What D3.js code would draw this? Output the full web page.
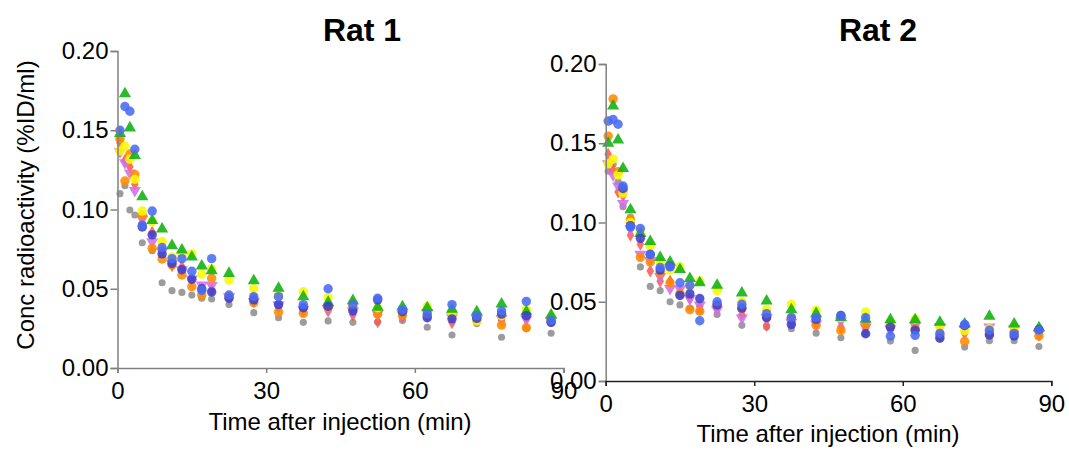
<!DOCTYPE html>
<html>
<head>
<meta charset="utf-8">
<script src="https://cdn.jsdelivr.net/npm/d3@7"></script>
<style>
  body { margin: 0; background: #fff; }
  svg { display: block; font-family: "Liberation Sans", Arial, sans-serif; }
</style>
</head>
<body>
<svg id="chart" width="1069" height="450"></svg>
<script>
// sample times (min), shared by both rats
const times = [0.5, 1.5, 2.5, 3.5, 5, 7, 9, 11, 13, 15, 17, 19, 22.5, 27.5, 32.5, 37.5, 42.5, 47.5, 52.5, 57.5, 62.5, 67.5, 72.5, 77.5, 82.5, 87.5];

// Rat 1
const rat1Blue   = [.150, .165, .162, .138, .090, .099, .076, .069, .069, .061, .049, .069, .046, .045, .045, .040, .050, .040, .044, .037, .034, .040, .033, .036, .042, .030];
const rat1Navy   = [null, null, null, null, .089, .084, .072, .066, .062, .056, .050, .048, .044, .043, .040, .038, .039, .036, .043, .0355, .0317, .031, .0313, .034, .033, .0288];
const rat1Green  = [.148, .173, .1515, .134, .108, .093, .0877, .0772, .0744, .070, .0644, .0614, .0597, .0551, .0503, .045, .0414, .0425, .0383, .0387, .038, .037, .0355, .0404, .0355, .0334];
const rat1Yellow = [.137, .140, .1317, .119, .099, .0923, .0797, .070, .0719, .072, .0593, .0625, .0555, .050, .046, .0481, .0444, .041, .038, .036, .0387, .034, .0297, .033, .037, .032];
const rat1Orange = [.1445, .118, .135, .122, .0963, .0755, .0688, .065, .0587, .0513, .046, .0566, .045, .0412, .0353, .0345, .038, .0383, .0339, .0334, .033, .0345, .030, .0271, .0254, .029];
const rat1Red    = [.142, .131, .127, .116, .0917, .0856, .075, .0646, .0639, .0555, .050, .049, .044, .045, .038, .036, .036, .0334, .0292, .032, .033, .0286, .030, .030, .031, .030];
const rat1Violet = [.1365, .1295, .123, .112, .094, .0797, .0734, .066, .062, .0562, .0524, .052, .045, .042, .0397, .037, .037, .036, .034, .034, .035, .032, .031, .0313, .0307, .030];
const rat1Gray   = [.110, .115, .0997, .0965, .079, .074, .0538, .0488, .0477, .046, .044, .0435, .040, .0349, .0317, .0288, .0297, .0288, .029, .030, .0257, .0208, .028, .0194, .025, .0219];

// Rat 2
const rat2Blue   = [.164, .165, .162, .123, .0972, .0962, .080, .0716, .072, .062, .0604, .038, .050, .0484, .0425, .040, .040, .041, .040, .0283, .0288, .030, .0357, .032, .030, .032];
const rat2Navy   = [null, null, null, .1215, .098, .090, .0798, .070, .0724, .054, .055, .052, .048, .046, .040, .0357, .0389, .0414, .0298, .034, .032, .027, .035, .029, .0284, .0325];
const rat2Green  = [.150, .1735, .152, .134, .108, .093, .088, .0779, .0751, .0703, .0646, .062, .0604, .0555, .0505, .045, .0425, .040, .039, .0387, .0387, .037, .036, .0408, .036, .0336];
const rat2Yellow = [.137, .140, .130, .1185, .100, .094, .085, .075, .070, .072, .0594, .0631, .057, .050, .045, .0484, .0446, .040, .0435, .037, .039, .034, .0317, .033, .034, .032];
const rat2Orange = [.1545, .178, .132, .120, .102, .078, .0751, .068, .062, .055, .045, .044, .048, .0456, .0403, .0397, .0351, .0319, .0355, .0357, .033, .0288, .025, .030, .031, .0283];
const rat2Red    = [.143, .133, .1193, .117, .092, .0863, .0694, .063, .063, .056, .052, .047, .046, .042, .0351, .038, .036, .034, .033, .032, .034, .031, .030, .030, .033, .029];
const rat2Violet = [.137, .130, .123, .112, .096, .080, .076, .066, .0583, .058, .052, .048, .045, .0397, .040, .037, .036, .038, .034, .033, .035, .034, .033, .034, .033, .030];
const rat2Gray   = [.1324, .1367, .1257, .110, .1035, .072, .0597, .057, .050, .048, .046, .044, .042, .0351, .034, .033, .0302, .0273, .030, .0252, .0193, .027, .0214, .0254, .0254, .0218];

const xTicks = [0, 30, 60, 90];
const yTicks = [0, 0.05, 0.10, 0.15, 0.20];

// marker styles, drawn bottom to top
const styles = [
  { key: "Gray",   color: "#8e8e8e", shape: d3.symbolCircle,   size: 40 },
  { key: "Red",    color: "#ff5a4c", shape: d3.symbolDiamond,  size: 50 },
  { key: "Violet", color: "#d06ee8", shape: d3.symbolTriangle, size: 64, flip: true },
  { key: "Orange", color: "#ff8a00", shape: d3.symbolCircle,   size: 70 },
  { key: "Yellow", color: "#f8f800", shape: d3.symbolCircle,   size: 70 },
  { key: "Green",  color: "#0cb00c", shape: d3.symbolTriangle, size: 64 },
  { key: "Navy",   color: "#3c40cc", shape: d3.symbolCircle,   size: 70 },
  { key: "Blue",   color: "#4a6cf2", shape: d3.symbolCircle,   size: 70 }
];

const panels = [
  { title: "Rat 1", x0: 117.5, x1: 563.5, y0: 368, y1: 51, titleX: 362, labelY: 430, xAxisColor: "#808080",
    data: { Blue: rat1Blue, Navy: rat1Navy, Green: rat1Green, Yellow: rat1Yellow, Orange: rat1Orange, Red: rat1Red, Violet: rat1Violet, Gray: rat1Gray } },
  { title: "Rat 2", x0: 605.7, x1: 1051.3, y0: 381, y1: 64, titleX: 878, labelY: 442, xAxisColor: "#222",
    data: { Blue: rat2Blue, Navy: rat2Navy, Green: rat2Green, Yellow: rat2Yellow, Orange: rat2Orange, Red: rat2Red, Violet: rat2Violet, Gray: rat2Gray } }
];

const svg = d3.select("#chart");

panels.forEach(p => {
  const x = d3.scaleLinear().domain([0, 90]).range([p.x0, p.x1]);
  const y = d3.scaleLinear().domain([0, 0.2]).range([p.y0, p.y1]);
  const g = svg.append("g");

  // points
  styles.forEach(s => {
    const vals = p.data[s.key];
    const sym = d3.symbol().type(s.shape).size(s.size);
    g.append("g").selectAll("path")
      .data(times.map((t, i) => [t, vals[i]]).filter(d => d[1] != null))
      .join("path")
      .attr("d", sym)
      .attr("transform", d => `translate(${x(d[0])},${y(d[1])})` + (s.flip ? " rotate(180)" : ""))
      .attr("fill", s.color)
      .attr("fill-opacity", 0.88);
  });

  // axes
  const yAxis = g.append("g")
    .attr("transform", `translate(${p.x0},0)`)
    .call(d3.axisLeft(y).tickValues(yTicks).tickFormat(d3.format(".2f")).tickSize(7).tickPadding(2));
  yAxis.selectAll("path, line").attr("stroke", "#808080").attr("stroke-width", 1.5);
  yAxis.selectAll("text").attr("font-size", 24).attr("fill", "#000").attr("font-family", "Liberation Sans, Arial, sans-serif");

  const xAxis = g.append("g")
    .attr("transform", `translate(0,${p.y0})`)
    .call(d3.axisBottom(x).tickValues(xTicks).tickSize(5).tickPadding(9));
  xAxis.selectAll("path, line").attr("stroke", p.xAxisColor).attr("stroke-width", 1.5);
  xAxis.selectAll("text").attr("font-size", 24).attr("fill", "#000").attr("font-family", "Liberation Sans, Arial, sans-serif");

  // title
  g.append("text")
    .attr("x", p.titleX).attr("y", 41)
    .attr("text-anchor", "middle")
    .attr("font-size", 32).attr("font-weight", "bold")
    .text(p.title);

  // x label
  g.append("text")
    .attr("x", (p.x0 + p.x1) / 2 - 0.5).attr("y", p.labelY)
    .attr("text-anchor", "middle")
    .attr("font-size", 24)
    .text("Time after injection (min)");
});

// y label (left only)
svg.append("text")
  .attr("transform", "translate(34,205) rotate(-90)")
  .attr("text-anchor", "middle")
  .attr("font-size", 24)
  .text("Conc radioactivity (%ID/ml)");
</script>
</body>
</html>
